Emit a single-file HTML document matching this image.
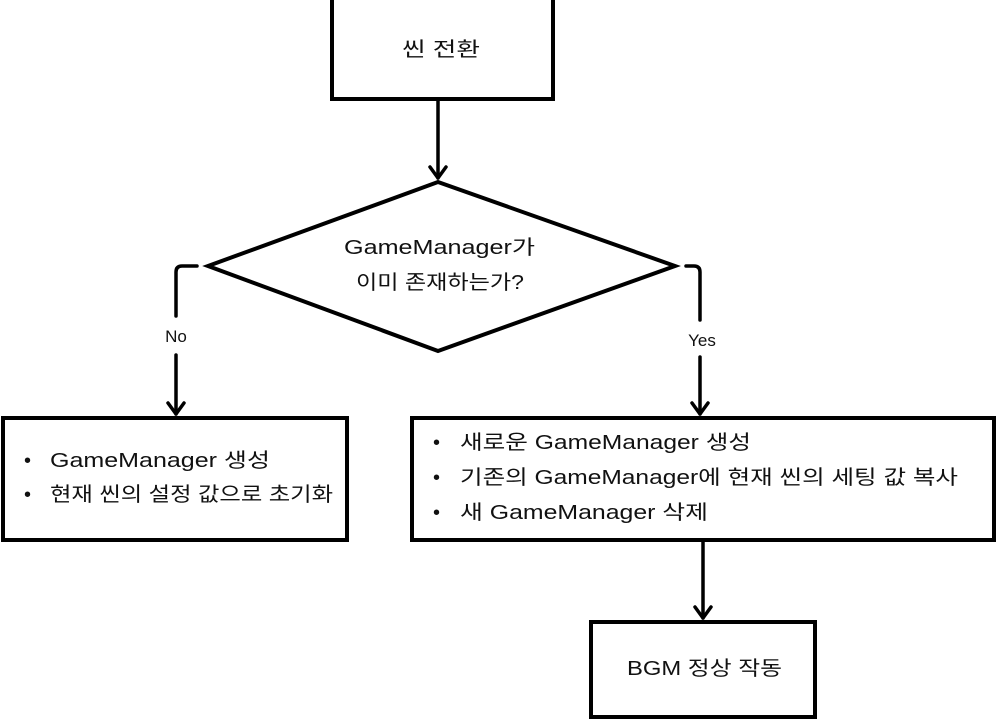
<!DOCTYPE html>
<html><head><meta charset="utf-8"><style>
html,body{margin:0;padding:0;background:#fff}
svg text{font-family:"Liberation Sans","Noto Sans CJK KR",sans-serif;fill:#111}
</style></head><body>
<svg width="997" height="721" viewBox="0 0 997 721" xmlns="http://www.w3.org/2000/svg">
<g fill="none" stroke="#000" stroke-width="4">
<rect x="332" y="-2" width="221" height="101"/>
<polygon points="438,182 675,266 438,351 208,266"/>
<rect x="3" y="418" width="344" height="122"/>
<rect x="412" y="418" width="582" height="122"/>
<rect x="591" y="622" width="224" height="95"/>
</g>
<g fill="none" stroke="#000" stroke-width="3.5" stroke-linejoin="round" stroke-linecap="round">
<path d="M438,99 V178"/><path d="M430,167 L438,178 L446,167"/>
<path d="M197,266 H182 Q176,266 176,272 V316"/>
<path d="M176,355 V414"/><path d="M168,403 L176,414 L184,403"/>
<path d="M686,266 H694 Q700,266 700,272 V320"/>
<path d="M700,357 V414"/><path d="M692,403 L700,414 L708,403"/>
<path d="M703,540 V618"/><path d="M695,607 L703,618 L711,607"/>
</g>
<g font-size="20" lengthAdjust="spacingAndGlyphs">
<text x="402" y="56" textLength="78" lengthAdjust="spacingAndGlyphs">씬 전환</text>
<text x="344" y="254" textLength="191" lengthAdjust="spacingAndGlyphs">GameManager가</text>
<text x="356" y="289" textLength="168" lengthAdjust="spacingAndGlyphs">이미 존재하는가?</text>
<text x="176" y="342" text-anchor="middle" font-size="17">No</text>
<text x="702" y="346" text-anchor="middle" font-size="17">Yes</text>
<text x="24" y="467">•</text><text x="50" y="467" textLength="220" lengthAdjust="spacingAndGlyphs">GameManager 생성</text>
<text x="24" y="501">•</text><text x="50" y="501" textLength="283" lengthAdjust="spacingAndGlyphs">현재 씬의 설정 값으로 초기화</text>
<text x="433" y="449">•</text><text x="460" y="449" textLength="291" lengthAdjust="spacingAndGlyphs">새로운 GameManager 생성</text>
<text x="433" y="484">•</text><text x="460" y="484" textLength="498" lengthAdjust="spacingAndGlyphs">기존의 GameManager에  현재 씬의 세팅 값 복사</text>
<text x="433" y="519">•</text><text x="460" y="519" textLength="248" lengthAdjust="spacingAndGlyphs">새 GameManager 삭제</text>
<text x="627" y="675" textLength="155" lengthAdjust="spacingAndGlyphs">BGM 정상 작동</text>
</g>
</svg>
</body></html>
